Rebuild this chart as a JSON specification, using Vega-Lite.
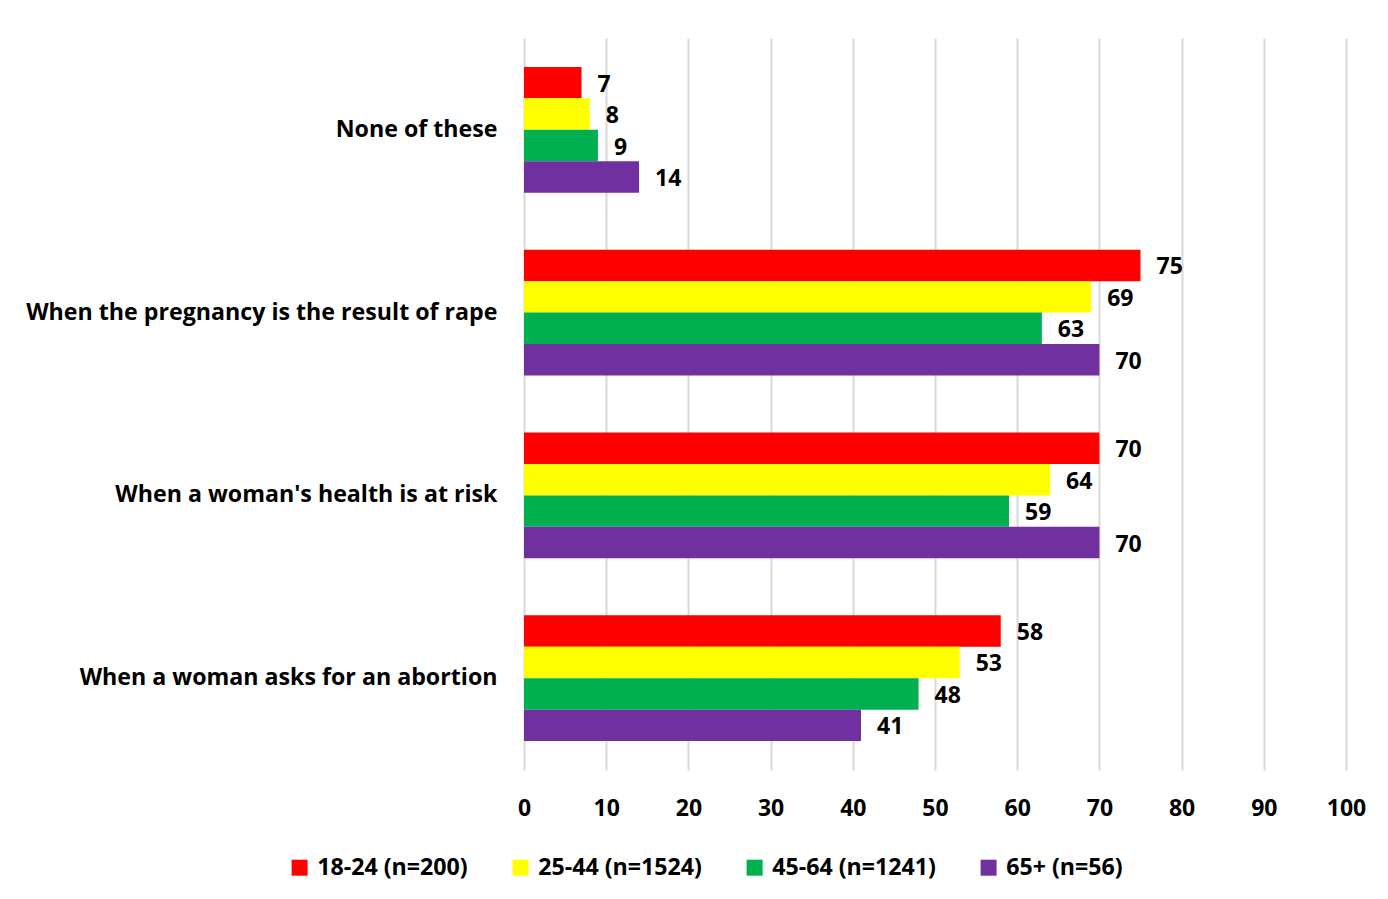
{
  "$schema": "https://vega.github.io/schema/vega-lite/v6.json",
  "width": 822,
  "height": 732,
  "autosize": {"type": "none"},
  "padding": {"left": 524, "top": 38, "right": 42, "bottom": 129},
  "background": "white",
  "config": {
    "font": "Open Sans",
    "view": {"stroke": null},
    "axis": {"labelFont": "Open Sans", "labelFontWeight": "bold", "labelColor": "#000000"}
  },
  "data": {
    "values": [
      {"category": "None of these", "group": "18-24 (n=200)", "value": 7},
      {"category": "None of these", "group": "25-44 (n=1524)", "value": 8},
      {"category": "None of these", "group": "45-64 (n=1241)", "value": 9},
      {"category": "None of these", "group": "65+ (n=56)", "value": 14},
      {"category": "When the pregnancy is the result of rape", "group": "18-24 (n=200)", "value": 75},
      {"category": "When the pregnancy is the result of rape", "group": "25-44 (n=1524)", "value": 69},
      {"category": "When the pregnancy is the result of rape", "group": "45-64 (n=1241)", "value": 63},
      {"category": "When the pregnancy is the result of rape", "group": "65+ (n=56)", "value": 70},
      {"category": "When a woman's health is at risk", "group": "18-24 (n=200)", "value": 70},
      {"category": "When a woman's health is at risk", "group": "25-44 (n=1524)", "value": 64},
      {"category": "When a woman's health is at risk", "group": "45-64 (n=1241)", "value": 59},
      {"category": "When a woman's health is at risk", "group": "65+ (n=56)", "value": 70},
      {"category": "When a woman asks for an abortion", "group": "18-24 (n=200)", "value": 58},
      {"category": "When a woman asks for an abortion", "group": "25-44 (n=1524)", "value": 53},
      {"category": "When a woman asks for an abortion", "group": "45-64 (n=1241)", "value": 48},
      {"category": "When a woman asks for an abortion", "group": "65+ (n=56)", "value": 41}
    ]
  },
  "encoding": {
    "y": {
      "field": "category",
      "type": "nominal",
      "sort": ["None of these", "When the pregnancy is the result of rape", "When a woman's health is at risk", "When a woman asks for an abortion"],
      "scale": {"paddingInner": 0.311, "paddingOuter": 0.158},
      "axis": {"title": null, "domain": false, "ticks": false, "labelPadding": 27, "labelFontSize": 23.2, "labelLimit": 600}
    },
    "yOffset": {
      "field": "group",
      "type": "nominal",
      "sort": ["18-24 (n=200)", "25-44 (n=1524)", "45-64 (n=1241)", "65+ (n=56)"],
      "scale": {"paddingInner": 0, "paddingOuter": 0}
    },
    "x": {
      "field": "value",
      "type": "quantitative",
      "scale": {"domain": [0, 100], "nice": false},
      "axis": {"title": null, "domain": false, "ticks": false, "values": [0,10,20,30,40,50,60,70,80,90,100], "grid": true, "gridColor": "#d9d9d9", "gridWidth": 2, "labelPadding": 27, "labelFontSize": 23, "labelFlush": false}
    }
  },
  "layer": [
    {
      "mark": {"type": "bar"},
      "encoding": {
        "color": {
          "field": "group",
          "type": "nominal",
          "sort": ["18-24 (n=200)", "25-44 (n=1524)", "45-64 (n=1241)", "65+ (n=56)"],
          "scale": {"domain": ["18-24 (n=200)", "25-44 (n=1524)", "45-64 (n=1241)", "65+ (n=56)"], "range": ["#FF0000", "#FFFF00", "#00B050", "#7030A0"]},
          "legend": {
            "title": null,
            "orient": "none",
            "direction": "horizontal",
            "legendX": -236,
            "legendY": 818,
            "symbolType": "square",
            "symbolSize": 256,
            "symbolStrokeWidth": 0,
            "labelFontSize": 23.2,
            "labelFontWeight": "bold",
            "labelColor": "#000000",
            "labelOffset": 6,
            "columnPadding": 41,
            "labelLimit": 400
          }
        }
      }
    },
    {
      "mark": {"type": "text", "align": "left", "baseline": "middle", "dx": 16, "dy": 2, "fontSize": 23, "fontWeight": "bold", "color": "#000000"},
      "encoding": {"text": {"field": "value", "type": "quantitative"}}
    }
  ]
}
